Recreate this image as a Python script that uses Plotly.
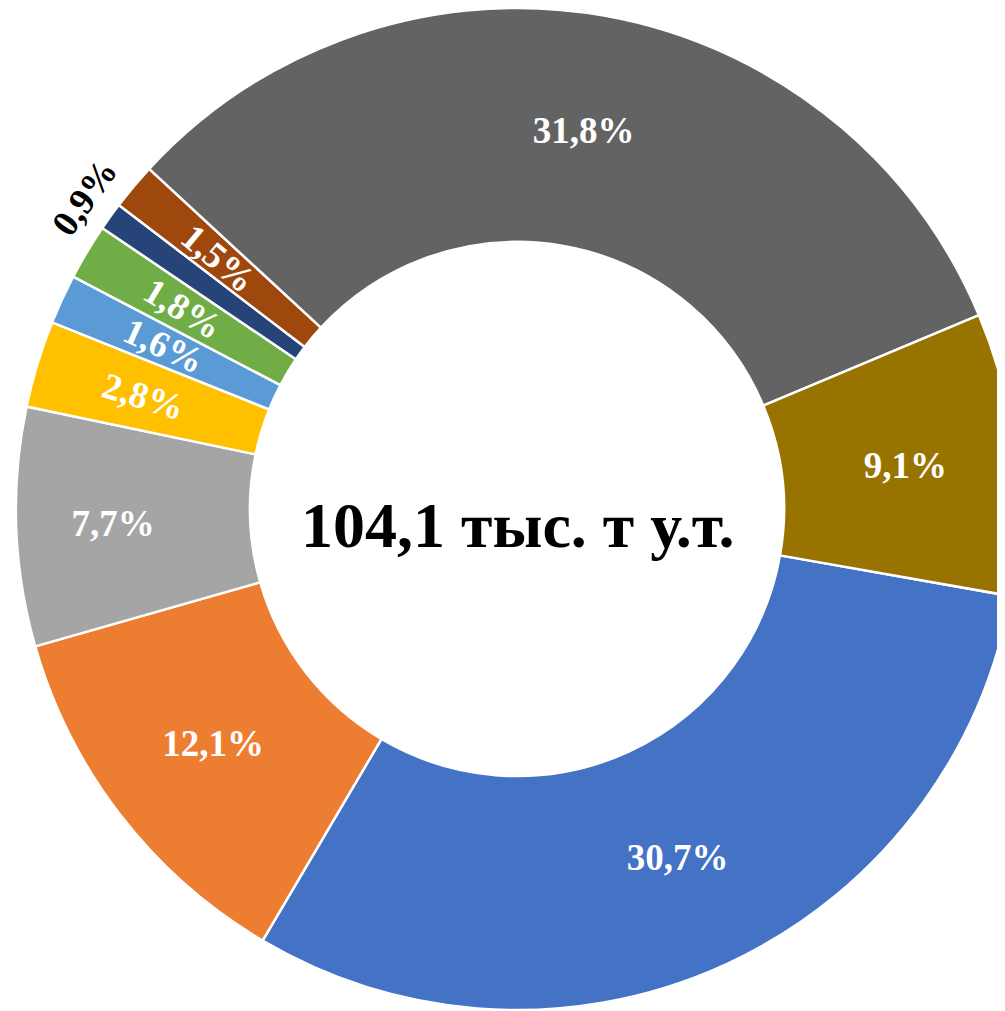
import math
import plotly.graph_objects as go

# Data (percent shares), in Excel series order
categories = ["Категория 1", "Категория 2", "Категория 3", "Категория 4", "Категория 5",
              "Категория 6", "Категория 7", "Категория 8", "Категория 9", "Категория 10"]
values = [30.7, 12.1, 7.7, 2.8, 1.6, 1.8, 0.9, 1.5, 31.8, 9.1]
total_label = "104,1 тыс. т у.т."

colors = ["#4472C4", "#ED7D31", "#A5A5A5", "#FFC000", "#5B9BD5",
          "#70AD47", "#264478", "#9E480E", "#636363", "#997300"]

labels_txt = [f"{v:.1f}".replace(".", ",") + "%" for v in values]
outside_idx = values.index(min(values))
small = [v < 5 for v in values]
positions = ["none" if small[i] else "inside" for i in range(len(values))]

W, H = 1020, 1011
ROT = 100
dom_x = [8 / W, 1010 / W]
dom_y = [(H - 1002) / H, 1.0]
HOLE = 0.533
FONT = "Liberation Serif"
LSIZE = 37

fig = go.Figure(go.Pie(
    labels=categories,
    values=values,
    text=labels_txt,
    textinfo="text",
    textposition=positions,
    insidetextorientation="horizontal",
    sort=False,
    direction="clockwise",
    rotation=ROT,
    hole=HOLE,
    marker=dict(colors=colors, line=dict(color="white", width=2.5)),
    textfont=dict(family=FONT, size=LSIZE, color="white", weight="bold"),
    domain=dict(x=dom_x, y=dom_y),
    showlegend=False,
    hoverinfo="label+percent",
))

# geometry of the pie in paper units (derived from domain)
wpx = (dom_x[1] - dom_x[0]) * W
hpx = (dom_y[1] - dom_y[0]) * H
r_px = min(wpx, hpx) / 2
xc = (dom_x[0] + dom_x[1]) / 2
yc = (dom_y[0] + dom_y[1]) / 2
total = sum(values)


def mid_angle(i):
    cum = sum(values[:i]) + values[i] / 2
    return ROT + 360 * cum / total


def polar(theta, rr):
    return (xc + rr * math.sin(math.radians(theta)) / W,
            yc + rr * math.cos(math.radians(theta)) / H)


mid_r = r_px * (1 + HOLE) / 2 * 1.015
for i, v in enumerate(values):
    if not small[i]:
        continue
    th = mid_angle(i)
    if i == outside_idx:
        x, y = polar(th, r_px * 1.064)
        fig.add_annotation(x=x, y=y, xref="paper", yref="paper", showarrow=False,
                           xanchor="center", yanchor="middle",
                           text=labels_txt[i], textangle=th - 360,
                           font=dict(family=FONT, size=LSIZE, color="black", weight="bold"))
    else:
        x, y = polar(th, mid_r)
        fig.add_annotation(x=x, y=y, xref="paper", yref="paper", showarrow=False,
                           xanchor="center", yanchor="middle",
                           text=labels_txt[i], textangle=th - 270,
                           font=dict(family=FONT, size=LSIZE, color="white", weight="bold"))

fig.add_annotation(x=xc, y=yc, xref="paper", yref="paper", showarrow=False,
                   xanchor="center", yanchor="middle",
                   text=total_label, yshift=-16,
                   font=dict(family=FONT, size=64, color="black", weight="bold"))

fig.update_layout(width=W, height=H, margin=dict(l=0, r=0, t=0, b=0),
                  paper_bgcolor="white", plot_bgcolor="white")

fig.write_html("out.html")
